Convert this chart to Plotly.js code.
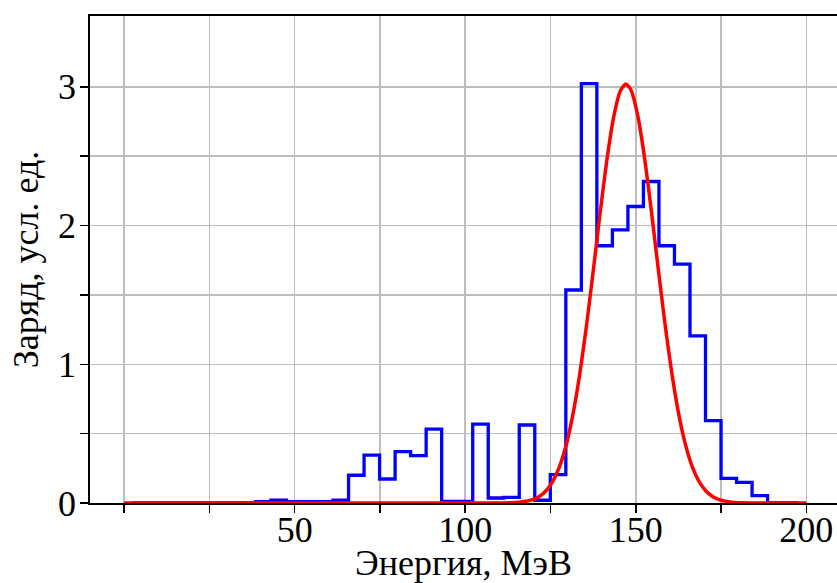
<!DOCTYPE html>
<html>
<head>
<meta charset="utf-8">
<script src="https://cdn.plot.ly/plotly-3.0.1.min.js"></script>
<style>
  html, body { margin: 0; padding: 0; background: #ffffff; }
  #chart { width: 837px; height: 583px; }
</style>
</head>
<body>
<div id="chart"></div>
<script>
// Histogram bin edges (МэВ) and charge per bin (усл. ед.)
const binEdges = [2.10, 6.65, 11.20, 15.75, 20.30, 24.85, 29.40, 33.95, 38.50, 43.05,
  47.60, 52.15, 56.70, 61.25, 65.80, 70.35, 74.90, 79.45, 84.00, 88.55,
  93.10, 97.65, 102.20, 106.75, 111.30, 115.85, 120.40, 124.95, 129.50, 134.05,
  138.60, 143.15, 147.70, 152.25, 156.80, 161.35, 165.90, 170.45, 175.00, 179.55,
  184.10, 188.65, 193.20, 197.75];
const binCharge = [0, 0, 0, 0, 0, 0, 0, 0, 0.01, 0.02,
  0.01, 0.01, 0.01, 0.02, 0.20, 0.345, 0.173, 0.37, 0.341, 0.533,
  0.012, 0.012, 0.569, 0.036, 0.04, 0.562, 0.02, 0.204, 1.535, 3.023,
  1.854, 1.969, 2.137, 2.317, 1.854, 1.722, 1.205, 0.593, 0.177, 0.149,
  0.053, 0, 0];

// Fitted curve
const fitEnergy = [0, 60, 100, 109.5, 113.5, 117.5, 119.5, 121.5, 123.5, 125.5,
  127.5, 129.5, 131.5, 133.5, 135.5, 137.5, 139.5, 141.5, 143.5, 145.5,
  147.1, 148.5, 150.5, 152.5, 154.5, 156.5, 158.5, 160.5, 162.5, 164.5,
  166.5, 168.5, 170.5, 172.5, 174.5, 177.5, 181.5, 185.5, 190, 200];
const fitCharge = [0, 0, 0, 0.0003, 0.002, 0.011, 0.022, 0.044, 0.083, 0.149,
  0.253, 0.409, 0.628, 0.915, 1.267, 1.666, 2.080, 2.466, 2.778, 2.971,
  3.02, 2.982, 2.803, 2.502, 2.121, 1.707, 1.305, 0.947, 0.653, 0.428,
  0.266, 0.157, 0.088, 0.047, 0.024, 0.008, 0.0015, 0.0002, 0, 0];

// Axis ticks
const xTickVals = [0, 25, 50, 75, 100, 125, 150, 175, 200];
const xTickText = ['', '', '50', '', '100', '', '150', '', '200'];
const yTickVals = [0, 0.5, 1, 1.5, 2, 2.5, 3];
const yTickText = ['0', '', '1', '', '2', '', '3'];

const stepY = binCharge.concat([binCharge[binCharge.length - 1]]);

const traces = [
  {
    x: binEdges,
    y: stepY,
    type: 'scatter',
    mode: 'lines',
    line: { shape: 'hv', color: '#0000ff', width: 3.3 },
    hoverinfo: 'x+y',
    showlegend: false
  },
  {
    x: fitEnergy,
    y: fitCharge,
    type: 'scatter',
    mode: 'lines',
    line: { shape: 'spline', smoothing: 0.6, color: '#ff0000', width: 3.5 },
    hoverinfo: 'x+y',
    showlegend: false
  }
];

const fontFamily = '"Liberation Serif", "DejaVu Serif", serif';

const layout = {
  width: 837,
  height: 583,
  margin: { l: 90, r: 0, t: 16, b: 80, pad: 0 },
  paper_bgcolor: '#ffffff',
  plot_bgcolor: '#ffffff',
  font: { family: fontFamily, size: 36, color: '#000000' },
  xaxis: {
    range: [-10, 209],
    tickmode: 'array',
    tickvals: xTickVals,
    ticktext: xTickText,
    ticks: 'outside',
    ticklen: 8,
    tickwidth: 1.5,
    tickcolor: '#000000',
    ticklabelstandoff: -14,
    showgrid: true,
    gridcolor: '#bdbdbd',
    gridwidth: 1.5,
    zeroline: false,
    showline: true,
    linecolor: '#000000',
    linewidth: 1.8,
    mirror: true,
    tickfont: { family: fontFamily, size: 36, color: '#000000' },
    title: { text: 'Энергия, МэВ', font: { family: fontFamily, size: 36, color: '#000000' }, standoff: 8 }
  },
  yaxis: {
    range: [0, 3.51],
    tickmode: 'array',
    tickvals: yTickVals,
    ticktext: yTickText,
    ticks: 'outside',
    ticklen: 8,
    tickwidth: 1.5,
    tickcolor: '#000000',
    ticklabelstandoff: -3,
    showgrid: true,
    gridcolor: '#bdbdbd',
    gridwidth: 1.5,
    zeroline: false,
    showline: true,
    linecolor: '#000000',
    linewidth: 1.8,
    mirror: false,
    tickfont: { family: fontFamily, size: 36, color: '#000000' },
    title: { text: 'Заряд, усл. ед.', font: { family: fontFamily, size: 36, color: '#000000' }, standoff: 8 }
  }
};

Plotly.newPlot('chart', traces, layout, { displayModeBar: false, staticPlot: true });
</script>
</body>
</html>
